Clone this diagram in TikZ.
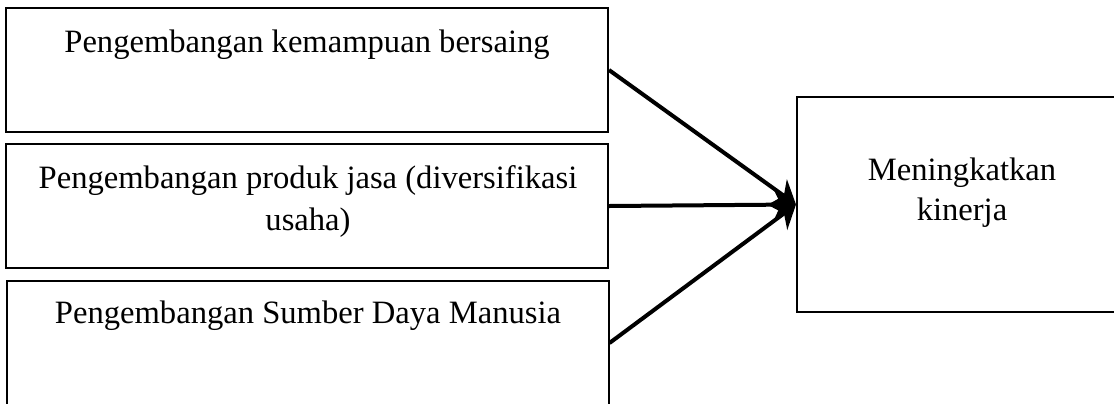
\documentclass[tikz,border=0pt]{standalone}
\usepackage{fontspec}
\setmainfont{Liberation Serif}
\usetikzlibrary{arrows.meta}
\begin{document}
\begin{tikzpicture}[x=0.5pt,y=-0.5pt,
  boxnode/.style={draw=black,line width=1pt,rectangle,inner sep=0pt},
  txt/.style={inner sep=0pt,anchor=base,font=\fontsize{16.3pt}{20.5pt}\selectfont},
  conn/.style={line width=2pt,-{Stealth[length=11pt,width=15pt,inset=3.5pt]}}]
\useasboundingbox (0,0) rectangle (1114,403);
% left boxes
\node[boxnode,minimum width=301pt,minimum height=62pt] (b1) at (307,70) {};
\node[boxnode,minimum width=301pt,minimum height=62pt] (b2) at (307,206) {};
\node[boxnode,minimum width=301pt,minimum height=62pt] (b3) at (307.5,343) {};
% right box (its right side lies beyond the picture's edge)
\node[boxnode,minimum width=200pt,minimum height=107.5pt] (r) at (997,204.5) {};
% texts
\node[txt] (t1) at (307,52) {Pengembangan kemampuan bersaing};
\node[txt] (t2a) at (308,188) {Pengembangan produk jasa (diversifikasi};
\node[txt] (t2b) at (308,230) {usaha)};
\node[txt] (t3) at (308,323) {Pengembangan Sumber Daya Manusia};
\node[txt] (t4a) at (962,180) {Meningkatkan};
\node[txt] (t4b) at (962,220) {kinerja};
% connectors
\draw[conn] (b1.east) -- (r.west);
\draw[conn] (b2.east) -- (r.west);
\draw[conn] (b3.east) -- (r.west);
\end{tikzpicture}
\end{document}
